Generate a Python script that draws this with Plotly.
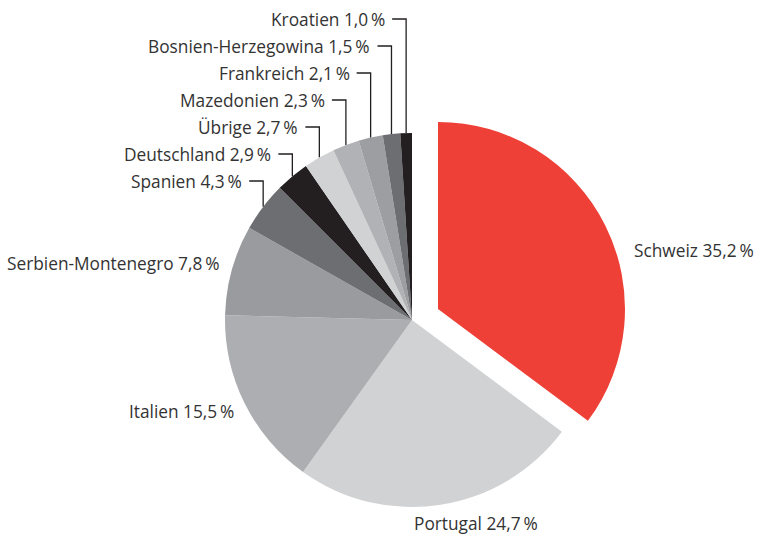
import math
import plotly.graph_objects as go

# ---- data ----
countries = ["Schweiz", "Portugal", "Italien", "Serbien-Montenegro", "Spanien",
             "Deutschland", "Übrige", "Mazedonien", "Frankreich",
             "Bosnien-Herzegowina", "Kroatien"]
shares = [35.2, 24.7, 15.5, 7.8, 4.3, 2.9, 2.7, 2.3, 2.1, 1.5, 1.0]
colors = ["#EE4036", "#D1D2D4", "#ADAEB1", "#9A9B9E", "#6D6E71", "#231F20",
          "#D1D2D4", "#B1B2B5", "#9D9EA1", "#6D6E71", "#231F20"]

# ---- layout constants (page pixels) ----
W, H = 758, 534
CX, CY, R = 412, 320, 187            # pie centre / radius
PULL_DX, PULL_DY = 26, -11           # offset of the highlighted slice
TEXT = "#333333"
FONT = dict(family="Open Sans, Noto Sans, sans-serif", size=17.3, color=TEXT)

small = ["Spanien", "Deutschland", "Übrige", "Mazedonien", "Frankreich",
         "Bosnien-Herzegowina", "Kroatien"]
ROW_TOP, ROW_STEP = 19, 27           # y of top (Kroatien) label row and spacing
big_pos = {  # x, y, xanchor
    "Schweiz": (632, 250, "left"),
    "Portugal": (476, 523, "center"),
    "Italien": (236, 411, "right"),
    "Serbien-Montenegro": (221, 263, "right"),
}


def label(name, v):
    return f"{name} {v:.1f}".replace(".", ",") + "\u2009%"


def dom(cx, cy):
    return dict(x=[(cx - R) / W, (cx + R) / W],
                y=[1 - (cy + R) / H, 1 - (cy - R) / H])


fig = go.Figure()

# all slices except the highlighted one
base_colors = ["rgba(0,0,0,0)"] + colors[1:]
fig.add_trace(go.Pie(labels=countries, values=shares, sort=False,
                     direction="clockwise", rotation=0,
                     marker=dict(colors=base_colors, line=dict(width=0)),
                     textinfo="none", hoverinfo="label+percent",
                     showlegend=False, domain=dom(CX, CY)))
# highlighted slice, shifted
hi_colors = [colors[0]] + ["rgba(0,0,0,0)"] * (len(colors) - 1)
fig.add_trace(go.Pie(labels=countries, values=shares, sort=False,
                     direction="clockwise", rotation=0,
                     marker=dict(colors=hi_colors, line=dict(width=0)),
                     textinfo="none", hoverinfo="skip",
                     showlegend=False, domain=dom(CX + PULL_DX, CY + PULL_DY)))

# mid angles (degrees clockwise from 12 o'clock)
total = sum(shares)
cum = 0
mid = {}
for n, v in zip(countries, shares):
    mid[n] = (cum + v / 2) / total * 360
    cum += v

annotations = []
rows = list(reversed(small))  # Kroatien at top
for i, n in enumerate(rows):
    v = shares[countries.index(n)]
    a = math.radians(mid[n])
    vx = CX + R * math.sin(a)
    vy = CY - R * math.cos(a)
    ry = ROW_TOP + i * ROW_STEP
    hx = vx - 14
    fig.add_trace(go.Scatter(x=[hx, vx, vx], y=[ry, ry, vy], mode="lines",
                             line=dict(color="#231F20", width=1.3),
                             hoverinfo="skip", showlegend=False))
    annotations.append(dict(x=hx - 5, y=ry, xref="x", yref="y", text=label(n, v),
                            showarrow=False, xanchor="right", yanchor="middle",
                            font=FONT))

for n, (x, y, xa) in big_pos.items():
    v = shares[countries.index(n)]
    annotations.append(dict(x=x, y=y, xref="x", yref="y", text=label(n, v),
                            showarrow=False, xanchor=xa, yanchor="middle",
                            font=FONT))

fig.update_layout(
    width=W, height=H, margin=dict(l=0, r=0, t=0, b=0),
    paper_bgcolor="white", plot_bgcolor="rgba(0,0,0,0)",
    xaxis=dict(range=[0, W], visible=False, fixedrange=True),
    yaxis=dict(range=[H, 0], visible=False, fixedrange=True),
    annotations=annotations, showlegend=False,
)

fig.write_html("out.html",
               config={"displayModeBar": False},
               post_script="document.body.style.margin='0';"
                           "document.body.style.overflow='hidden';")
